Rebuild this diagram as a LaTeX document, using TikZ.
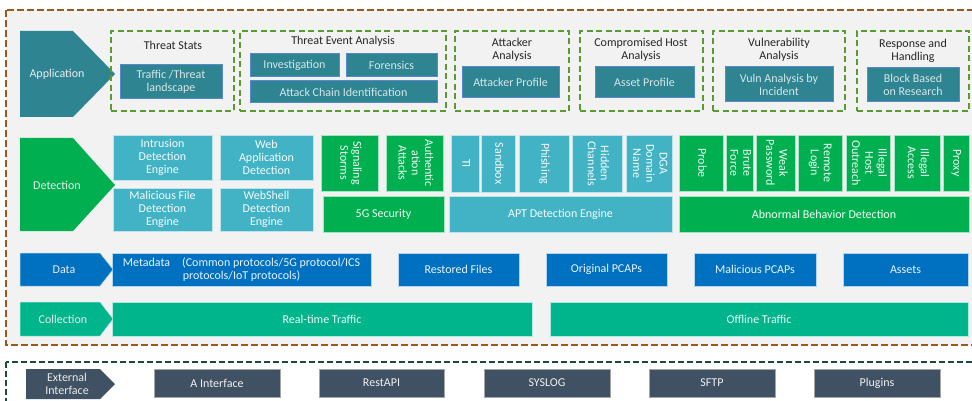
\documentclass[tikz,border=0pt]{standalone}
\usepackage{fontspec}
\setmainfont{Carlito}
\usepackage{graphicx}
\definecolor{appteal}{HTML}{2E8591}
\definecolor{appline}{HTML}{5A88CC}
\definecolor{apptext}{HTML}{D6E6E9}
\definecolor{dteal}{HTML}{42B3C4}
\definecolor{dgreen}{HTML}{00B050}
\definecolor{dblue}{HTML}{0070C0}
\definecolor{cgreen}{HTML}{00B48C}
\definecolor{eslate}{HTML}{3F5162}
\definecolor{brownd}{HTML}{9B5A1A}
\definecolor{grpgreen}{HTML}{5B9A30}
\definecolor{botline}{HTML}{1E4A3C}
\definecolor{bggray}{HTML}{F2F2F2}
\definecolor{titletext}{HTML}{262626}
\newcommand\Bx[7]{\node[#2, minimum width={#5pt-#3pt}, minimum height={#6pt-#4pt}] (#1) at ({(#3+#5)/2},{(#4+#6)/2}) {#7};}
\newcommand\vt[1]{\rotatebox{-90}{\begin{tabular}{@{}c@{}}#1\end{tabular}}}
\tikzset{
  every node/.style={font=\fontsize{12}{13.2}\selectfont, inner sep=0pt, outer sep=0pt, align=center},
  grp/.style={draw=grpgreen, line width=1.8pt, dash pattern=on 6pt off 3.5pt, rectangle},
  ttl/.style={text=titletext},
  appbox/.style={fill=appteal, draw=appline, line width=1pt, text=apptext, rectangle},
  tbox/.style={fill=dteal, draw=white!65!dteal, line width=0.6pt, text=white!95!dteal, rectangle},
  gbox/.style={fill=dgreen, draw=white!65!dgreen, line width=0.6pt, text=white!95!dgreen, rectangle},
  dbox/.style={fill=dblue, draw=white!70!dblue, line width=0.5pt, text=white!92!dblue, rectangle},
  cbox/.style={fill=cgreen, draw=white!70!cgreen, line width=0.5pt, text=white!92!cgreen, rectangle},
  ebox/.style={fill=eslate, draw=gray!70, line width=0.5pt, text=white!92!eslate, rectangle},
  arrlab/.style={text=white!92!black},
}
\begin{document}
\begin{tikzpicture}[x=1pt,y=-1pt]
\clip (0,0) rectangle (972,401);
\fill[white] (0,0) rectangle (972,401);
% main dashed frame
\draw[fill=bggray, draw=brownd, line width=1.5pt, dash pattern=on 7pt off 3pt] (6,10) rectangle (985,345);
% external frame
\draw[draw=botline, line width=1.5pt, dash pattern=on 6pt off 3pt] (6,362) rectangle (985,415);

% ---------- Application row
\fill[appteal] (20,31) -- (73,31) -- (115,74) -- (73,117) -- (20,117) -- cycle;
\node[arrlab] (lapp) at (57,74) {Application};

\Bx{g1}{grp}{111}{31}{234}{111}{}
\Bx{g2}{grp}{240}{31}{446}{111}{}
\Bx{g3}{grp}{455}{31}{569}{111}{}
\Bx{g4}{grp}{580}{31}{703}{111}{}
\Bx{g5}{grp}{713}{31}{845}{111}{}
\Bx{g6}{grp}{857}{31}{969}{111}{}

\node[ttl] (t1) at (173,45) {Threat Stats};
\node[ttl] (t2) at (343,41) {Threat Event Analysis};
\node[ttl] (t3) at (512,50) {Attacker\\Analysis};
\node[ttl] (t4) at (641,50) {Compromised Host\\Analysis};
\node[ttl] (t5) at (779,50) {Vulnerability\\Analysis};
\node[ttl] (t6) at (913,51) {Response and\\Handling};

\Bx{a1}{appbox}{120}{65}{222}{99}{Traffic /Threat\\landscape}
\Bx{a2}{appbox}{250}{54}{339}{77}{Investigation}
\Bx{a3}{appbox}{346}{54}{437}{77}{Forensics}
\Bx{a4}{appbox}{250}{81}{437}{103}{Attack Chain Identification}
\Bx{a5}{appbox}{462}{67}{559}{98}{Attacker Profile}
\Bx{a6}{appbox}{595}{67}{694}{98}{Asset Profile}
\Bx{a7}{appbox}{725}{67}{833}{102}{Vuln Analysis by\\Incident}
\Bx{a8}{appbox}{867}{68}{959}{102}{Block Based\\on Research}

% ---------- Detection row
\fill[dgreen] (20,138) -- (73,138) -- (115,185) -- (73,231) -- (20,231) -- cycle;
\node[arrlab] (ldet) at (57,185) {Detection};

\Bx{d1}{tbox}{113}{135}{212}{180}{Intrusion\\Detection\\Engine}
\Bx{d2}{tbox}{113}{188}{212}{231}{Malicious File\\Detection\\Engine}
\Bx{d3}{tbox}{220}{135}{313}{180}{Web\\Application\\Detection}
\Bx{d4}{tbox}{220}{188}{313}{231}{WebShell\\Detection\\Engine}

\Bx{s1}{gbox}{321}{135}{378}{191}{\vt{Signaling\\Storms}}
\Bx{s2}{gbox}{386}{135}{443}{191}{\vt{Authentic\\ation\\Attacks}}
\Bx{s5g}{gbox}{323}{196}{444}{232}{5G Security}

\Bx{p1}{tbox}{451}{135}{479}{192}{\vt{TI}}
\Bx{p2}{tbox}{481}{135}{515}{192}{\vt{Sandbox}}
\Bx{p3}{tbox}{519}{135}{569}{192}{\vt{Phishing}}
\Bx{p4}{tbox}{572}{135}{622}{192}{\vt{Hidden\\Channels}}
\Bx{p5}{tbox}{626}{135}{672}{192}{\vt{DGA\\Domain\\Name}}
\Bx{pE}{tbox}{449}{196}{672}{232}{APT Detection Engine}

\Bx{b1}{gbox}{679}{135}{723}{191}{\vt{Probe}}
\Bx{b2}{gbox}{726}{135}{753}{191}{\vt{Brute\\Force}}
\Bx{b3}{gbox}{756}{135}{795}{191}{\vt{Weak\\Password}}
\Bx{b4}{gbox}{798}{135}{842}{191}{\vt{Remote\\Login}}
\Bx{b5}{gbox}{846}{135}{890}{191}{\vt{Illegal\\Host\\Outreach}}
\Bx{b6}{gbox}{894}{135}{940}{191}{\vt{Illegal\\Access}}
\Bx{b7}{gbox}{943}{135}{969}{191}{\vt{Proxy}}
\Bx{bE}{gbox}{679}{196}{969}{232}{Abnormal Behavior Detection}

% ---------- Data row
\Bx{m1}{dbox}{112}{253}{371}{286}{Metadata\quad(Common protocols/5G protocol/ICS\\protocols/IoT protocols)}
\fill[dblue, draw=white!70!dblue, line width=0.5pt] (20,253) -- (100,253) -- (113,269.5) -- (100,286) -- (20,286) -- cycle;
\node[arrlab] (ldata) at (64,270) {Data};
\Bx{m2}{dbox}{398}{253}{519}{286}{Restored Files}
\Bx{m3}{dbox}{546}{253}{667}{286}{Original PCAPs}
\Bx{m4}{dbox}{694}{253}{816}{286}{Malicious PCAPs}
\Bx{m5}{dbox}{843}{253}{968}{286}{Assets}

% ---------- Collection row
\Bx{c1}{cbox}{112}{302}{532}{336}{Real-time Traffic}
\fill[cgreen, draw=white!70!cgreen, line width=0.5pt] (20,302) -- (100,302) -- (113,319) -- (100,336) -- (20,336) -- cycle;
\node[arrlab] (lcol) at (63,319) {Collection};
\Bx{c2}{cbox}{550}{302}{968}{336}{Offline Traffic}

% ---------- External interface row
\fill[eslate] (26,369) -- (100,369) -- (115,384) -- (100,399) -- (26,399) -- cycle;
\node[arrlab] (lext) at (67,384) {External\\Interface};
\Bx{e1}{ebox}{154}{369}{280}{397}{A Interface}
\Bx{e2}{ebox}{319}{369}{444}{397}{RestAPI}
\Bx{e3}{ebox}{484}{369}{610}{397}{SYSLOG}
\Bx{e4}{ebox}{649}{369}{775}{397}{SFTP}
\Bx{e5}{ebox}{814}{369}{940}{397}{Plugins}
\end{tikzpicture}
\end{document}
